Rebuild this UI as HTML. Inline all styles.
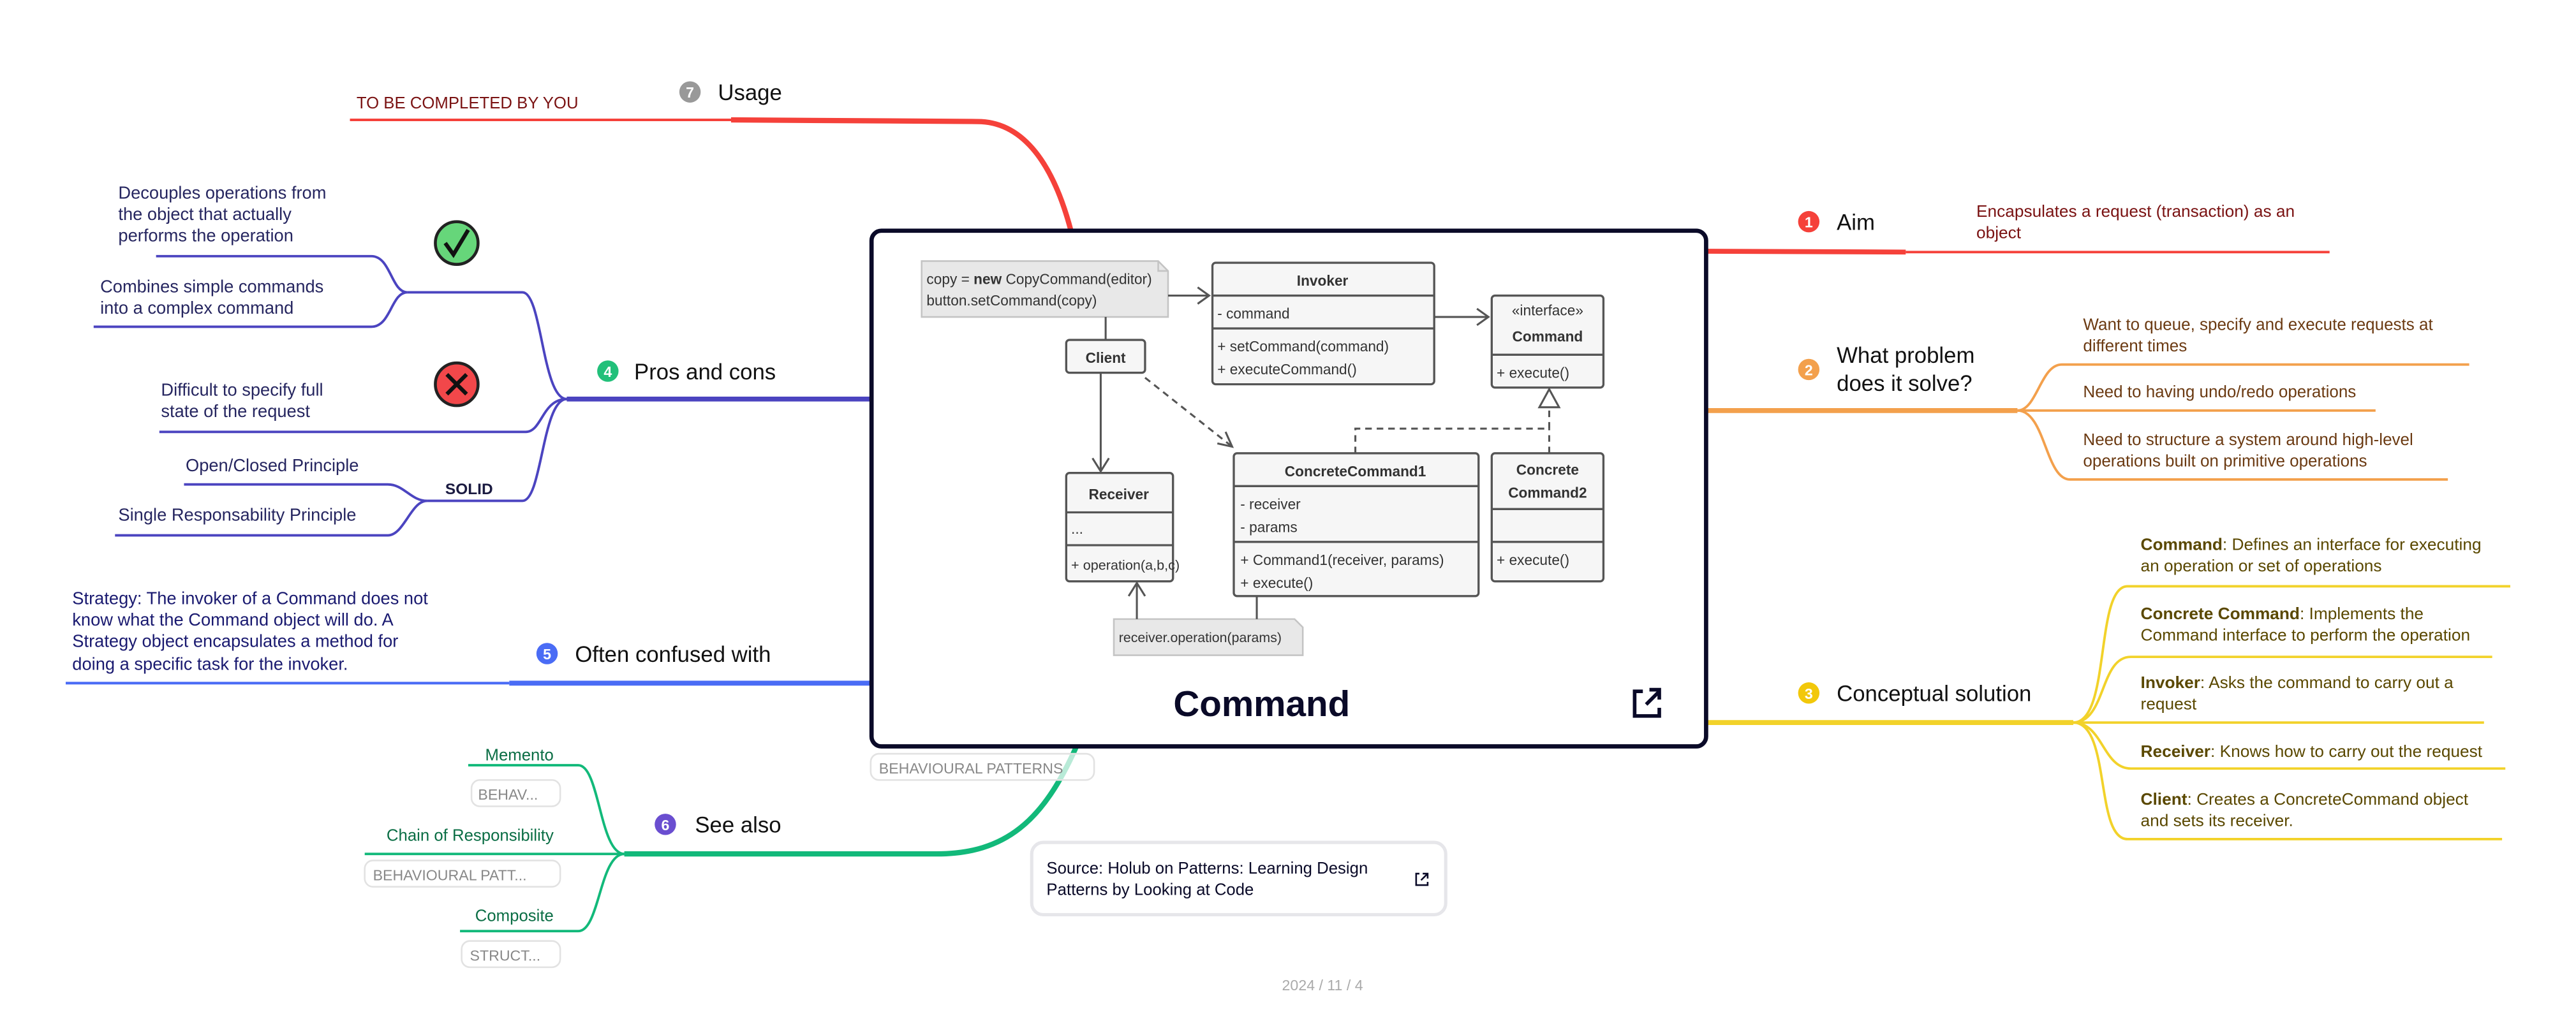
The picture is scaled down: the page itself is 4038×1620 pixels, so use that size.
<!DOCTYPE html>
<html><head><meta charset="utf-8"><style>
html,body{margin:0;padding:0;background:#fff;}
svg{display:block;}
text{font-family:"Liberation Sans",sans-serif;}
</style></head><body>
<svg width="4038" height="1620" viewBox="0 0 1568 629.05" preserveAspectRatio="none" xmlns="http://www.w3.org/2000/svg">
<rect width="1568" height="630" fill="#fff"/>

<!-- ===== RED usage ===== -->
<path d="M652,141 C640,95 620,74 595,74 L445,73" stroke="#f5413a" stroke-width="3.2" fill="none"/>
<path d="M445,73 L213,73" stroke="#f5413a" stroke-width="1.6" fill="none"/>
<circle cx="420" cy="56" r="6.5" fill="#999"/><text x="420" y="59.5" font-size="9" font-weight="bold" fill="#fff" text-anchor="middle">7</text>
<text x="437" y="61" font-size="13.5" fill="#111">Usage</text>
<text x="217" y="66" font-size="10" fill="#7a1212">TO BE COMPLETED BY YOU</text>

<!-- ===== AIM ===== -->
<path d="M1039,153 L1160,153.5" stroke="#f5413a" stroke-width="3" fill="none"/>
<path d="M1160,153.5 L1418,153.5" stroke="#f5413a" stroke-width="1.5" fill="none"/>
<circle cx="1101" cy="135" r="6.5" fill="#f5413a"/><text x="1101" y="138.5" font-size="9" font-weight="bold" fill="#fff" text-anchor="middle">1</text>
<text x="1118" y="140" font-size="13.5" fill="#111">Aim</text>
<text x="1203" y="132" font-size="10.2" fill="#7a1212">Encapsulates a request (transaction) as an</text>
<text x="1203" y="145" font-size="10.2" fill="#7a1212">object</text>

<!-- ===== WHAT PROBLEM ===== -->
<path d="M1039,250 L1228,250" stroke="#f3a04c" stroke-width="3" fill="none"/>
<path d="M1228,250 C1240,250 1242,222 1255,222 L1503,222" stroke="#f3a04c" stroke-width="1.5" fill="none"/>
<path d="M1228,250 L1446,250" stroke="#f3a04c" stroke-width="1.5" fill="none"/>
<path d="M1228,250 C1245,250 1245,292 1260,292 L1490,292" stroke="#f3a04c" stroke-width="1.5" fill="none"/>
<circle cx="1101" cy="225" r="6.5" fill="#f3a04c"/><text x="1101" y="228.5" font-size="9" font-weight="bold" fill="#fff" text-anchor="middle">2</text>
<text x="1118" y="221" font-size="13.5" fill="#111">What problem</text>
<text x="1118" y="238" font-size="13.5" fill="#111">does it solve?</text>
<text x="1268" y="201" font-size="10.1" fill="#6b3a12">Want to queue, specify and execute requests at</text>
<text x="1268" y="214" font-size="10.1" fill="#6b3a12">different times</text>
<text x="1268" y="242" font-size="10.1" fill="#6b3a12">Need to having undo/redo operations</text>
<text x="1268" y="271" font-size="10.1" fill="#6b3a12">Need to structure a system around high-level</text>
<text x="1268" y="284" font-size="10.1" fill="#6b3a12">operations built on primitive operations</text>

<!-- ===== CONCEPTUAL ===== -->
<path d="M1039,440 L1262,440" stroke="#f2d22a" stroke-width="3" fill="none"/>
<g stroke="#f2d22a" stroke-width="1.5" fill="none">
<path d="M1262,440 C1285,440 1275,357 1295,357 L1528,357"/>
<path d="M1262,440 C1282,440 1278,400 1297,400 L1517,400"/>
<path d="M1262,440 L1512,440"/>
<path d="M1262,440 C1280,440 1280,468 1297,468 L1525,468"/>
<path d="M1262,440 C1285,440 1275,511 1295,511 L1523,511"/>
</g>
<circle cx="1101" cy="422" r="6.5" fill="#f2c80a"/><text x="1101" y="425.5" font-size="9" font-weight="bold" fill="#fff" text-anchor="middle">3</text>
<text x="1118" y="427" font-size="13.5" fill="#111">Conceptual solution</text>
<g font-size="10.2" fill="#5a4800">
<text x="1303" y="335"><tspan font-weight="bold">Command</tspan>: Defines an interface for executing</text>
<text x="1303" y="348">an operation or set of operations</text>
<text x="1303" y="377"><tspan font-weight="bold">Concrete Command</tspan>: Implements the</text>
<text x="1303" y="390">Command interface to perform the operation</text>
<text x="1303" y="419"><tspan font-weight="bold">Invoker</tspan>: Asks the command to carry out a</text>
<text x="1303" y="432">request</text>
<text x="1303" y="461"><tspan font-weight="bold">Receiver</tspan>: Knows how to carry out the request</text>
<text x="1303" y="490"><tspan font-weight="bold">Client</tspan>:  Creates a ConcreteCommand object</text>
<text x="1303" y="503">and sets its receiver.</text>
</g>

<!-- ===== PROS AND CONS ===== -->
<path d="M530,243 L345,243" stroke="#4b44c0" stroke-width="3" fill="none"/>
<g stroke="#4b44c0" stroke-width="1.5" fill="none">
<path d="M345,243 C330,243 330,178 318,178 L248,178"/>
<path d="M248,178 C238,178 238,156 226,156 L95,156"/>
<path d="M248,178 C238,178 238,199 226,199 L57,199"/>
<path d="M345,243 C330,243 330,263 320,263 L97,263"/>
<path d="M345,243 C330,243 330,305 318,305 L260,305"/>
<path d="M260,305 C250,305 246,295 236,295 L112,295"/>
<path d="M260,305 C250,305 246,326 236,326 L70,326"/>
</g>
<circle cx="370" cy="226" r="6.5" fill="#22c07a"/><text x="370" y="229.5" font-size="9" font-weight="bold" fill="#fff" text-anchor="middle">4</text>
<text x="386" y="231" font-size="13.5" fill="#111">Pros and cons</text>
<circle cx="278" cy="148" r="13" fill="#66d67a" stroke="#222" stroke-width="1.8"/>
<path d="M271,148 L276,155 L285,140" stroke="#111" stroke-width="2.4" fill="none"/>
<circle cx="278" cy="234" r="13" fill="#f2474a" stroke="#222" stroke-width="1.8"/>
<path d="M272,228 L284,240 M284,228 L272,240" stroke="#111" stroke-width="2.4"/>
<g font-size="10.6" fill="#262660">
<text x="72" y="121">Decouples operations from</text>
<text x="72" y="134">the object that actually</text>
<text x="72" y="147">performs the operation</text>
<text x="61" y="178">Combines simple commands</text>
<text x="61" y="191">into a complex command</text>
<text x="98" y="241">Difficult to specify full</text>
<text x="98" y="254">state of the request</text>
<text x="113" y="287">Open/Closed Principle</text>
<text x="72" y="317">Single Responsability Principle</text>
<text x="271" y="301" font-weight="bold" font-size="9.5" fill="#1a1a40">SOLID</text>
</g>

<!-- ===== OFTEN CONFUSED ===== -->
<path d="M530,416 L310,416" stroke="#4a6cf5" stroke-width="3" fill="none"/>
<path d="M310,416 L40,416" stroke="#4a6cf5" stroke-width="1.6" fill="none"/>
<circle cx="333" cy="398" r="6.5" fill="#4a6cf5"/><text x="333" y="401.5" font-size="9" font-weight="bold" fill="#fff" text-anchor="middle">5</text>
<text x="350" y="403" font-size="13.5" fill="#111">Often confused with</text>
<g font-size="10.6" fill="#1a1a70">
<text x="44" y="368">Strategy: The invoker of a Command does not</text>
<text x="44" y="381">know what the Command object will do. A</text>
<text x="44" y="394">Strategy object encapsulates a method for</text>
<text x="44" y="408">doing a specific task for the invoker.</text>
</g>

<!-- ===== SEE ALSO ===== -->
<path d="M655,455 C635,500 612,520 570,520 L380,520" stroke="#12b97a" stroke-width="3.2" fill="none"/>
<g stroke="#12b97a" stroke-width="1.5" fill="none">
<path d="M380,520 C365,520 365,466 352,466 L285,466"/>
<path d="M380,520 L222,520"/>
<path d="M380,520 C365,520 365,567 352,567 L280,567"/>
</g>
<circle cx="405" cy="502" r="6.5" fill="#6a4ed0"/><text x="405" y="505.5" font-size="9" font-weight="bold" fill="#fff" text-anchor="middle">6</text>
<text x="423" y="507" font-size="13.5" fill="#111">See also</text>
<g font-size="10" fill="#0b6e45">
<text x="337" y="463" text-anchor="end">Memento</text>
<text x="337" y="512" text-anchor="end">Chain of Responsibility</text>
<text x="337" y="561" text-anchor="end">Composite</text>
</g>
<g font-size="9" fill="#888" stroke-width="1">
<rect x="287" y="475" width="54" height="16" rx="5" fill="#fff" stroke="#e2e2e2"/><text x="291" y="487">BEHAV...</text>
<rect x="222" y="524" width="119" height="16" rx="5" fill="#fff" stroke="#e2e2e2"/><text x="227" y="536">BEHAVIOURAL PATT...</text>
<rect x="281" y="573" width="60" height="16" rx="5" fill="#fff" stroke="#e2e2e2"/><text x="286" y="585">STRUCT...</text>
</g>

<!-- ===== CENTRAL CARD ===== -->
<rect x="530.5" y="140.5" width="508" height="314" rx="6" fill="#fff" stroke="#0a0a28" stroke-width="2.6"/>
<rect x="530" y="459" width="136" height="16" rx="5" fill="#fff" fill-opacity="0.7" stroke="#e2e2e2"/>
<text x="535" y="471" font-size="9" fill="#888">BEHAVIOURAL PATTERNS</text>

<!-- UML -->
<g font-size="8.8" fill="#333">
<path d="M561,159 L705,159 L711,165 L711,193 L561,193 Z" fill="#e8e8e8" stroke="#c4c4c4"/>
<path d="M705,159 L705,165 L711,165" fill="none" stroke="#c4c4c4"/>
<text x="564" y="173">copy = <tspan font-weight="bold">new</tspan> CopyCommand(editor)</text>
<text x="564" y="186">button.setCommand(copy)</text>
<rect x="738" y="160" width="135" height="74" rx="2" fill="#f6f6f6" stroke="#555" stroke-width="1.3"/>
<line x1="738" y1="180" x2="873" y2="180" stroke="#555" stroke-width="1.3"/>
<line x1="738" y1="200" x2="873" y2="200" stroke="#555" stroke-width="1.3"/>
<text x="805" y="174" text-anchor="middle" font-weight="bold">Invoker</text>
<text x="741" y="194">- command</text>
<text x="741" y="214">+ setCommand(command)</text>
<text x="741" y="228">+ executeCommand()</text>
<rect x="908" y="180" width="68" height="56" rx="2" fill="#f6f6f6" stroke="#555" stroke-width="1.3"/>
<line x1="908" y1="216" x2="976" y2="216" stroke="#555" stroke-width="1.3"/>
<text x="942" y="192" text-anchor="middle">«interface»</text>
<text x="942" y="208" text-anchor="middle" font-weight="bold">Command</text>
<text x="911" y="230">+ execute()</text>
<rect x="649" y="207" width="48" height="20" rx="2" fill="#f6f6f6" stroke="#555" stroke-width="1.3"/>
<text x="673" y="221" text-anchor="middle" font-weight="bold">Client</text>
<rect x="649" y="288" width="65" height="66" rx="2" fill="#f6f6f6" stroke="#555" stroke-width="1.3"/>
<line x1="649" y1="312" x2="714" y2="312" stroke="#555" stroke-width="1.3"/>
<line x1="649" y1="332" x2="714" y2="332" stroke="#555" stroke-width="1.3"/>
<text x="681" y="304" text-anchor="middle" font-weight="bold">Receiver</text>
<text x="652" y="325">...</text>
<text x="652" y="347" font-size="8.4">+ operation(a,b,c)</text>
<rect x="751" y="276" width="149" height="87" rx="2" fill="#f6f6f6" stroke="#555" stroke-width="1.3"/>
<line x1="751" y1="296" x2="900" y2="296" stroke="#555" stroke-width="1.3"/>
<line x1="751" y1="330" x2="900" y2="330" stroke="#555" stroke-width="1.3"/>
<text x="825" y="290" text-anchor="middle" font-weight="bold">ConcreteCommand1</text>
<text x="755" y="310">- receiver</text>
<text x="755" y="324">- params</text>
<text x="755" y="344">+ Command1(receiver, params)</text>
<text x="755" y="358">+ execute()</text>
<rect x="908" y="276" width="68" height="78" rx="2" fill="#f6f6f6" stroke="#555" stroke-width="1.3"/>
<line x1="908" y1="310" x2="976" y2="310" stroke="#555" stroke-width="1.3"/>
<line x1="908" y1="330" x2="976" y2="330" stroke="#555" stroke-width="1.3"/>
<text x="942" y="289" text-anchor="middle" font-weight="bold">Concrete</text>
<text x="942" y="303" text-anchor="middle" font-weight="bold">Command2</text>
<text x="911" y="344">+ execute()</text>
<path d="M678,377 L788,377 L793,382 L793,399 L678,399 Z" fill="#e8e8e8" stroke="#c4c4c4"/>
<text x="681" y="391" font-size="8.3">receiver.operation(params)</text>
</g>
<g stroke="#555" stroke-width="1.2" fill="none">
<path d="M711,180 L736,180 M729,175 L736,180 L729,185"/>
<path d="M873,193 L906,193 M899,188 L906,193 L899,198"/>
<path d="M673,193 L673,207"/>
<path d="M670,227 L670,287 M665,279 L670,287 L675,279"/>
<path d="M697,230 L750,272" stroke-dasharray="4,3"/>
<path d="M741,270 L750,272 L746,263"/>
<path d="M825,276 L825,261 L943,261 L943,248" stroke-dasharray="4,3"/>
<path d="M943,276 L943,261" stroke-dasharray="4,3"/>
<path d="M943,237 L937,248 L949,248 Z" fill="#fff"/>
<path d="M765,363 L765,377"/>
<path d="M692,377 L692,355 M687,363 L692,355 L697,363"/>
</g>

<text x="768" y="436" font-size="22" font-weight="bold" fill="#0a0a28" text-anchor="middle">Command</text>
<g stroke="#0a0a28" stroke-width="2.2" fill="none">
<path d="M1000,421 L995,421 L995,436 L1010,436 L1010,431"/>
<path d="M1002,429 L1010,421 M1004,420 L1010,420 L1010,426"/>
</g>

<rect x="628" y="513" width="252" height="44" rx="7" fill="#fff" stroke="#e6e6ea" stroke-width="2"/>
<text x="637" y="532" font-size="10" fill="#0a0a28">Source: Holub on Patterns: Learning Design</text>
<text x="637" y="545" font-size="10" fill="#0a0a28">Patterns by Looking at Code</text>
<g stroke="#0a0a28" stroke-width="1" fill="none">
<path d="M864,532 L862,532 L862,539 L869,539 L869,537"/>
<path d="M865,536 L869,532 M866,532 L869,532 L869,535"/>
</g>
<text x="805" y="603" font-size="9" fill="#aaa" text-anchor="middle">2024 / 11 / 4</text>
</svg>
</body></html>
